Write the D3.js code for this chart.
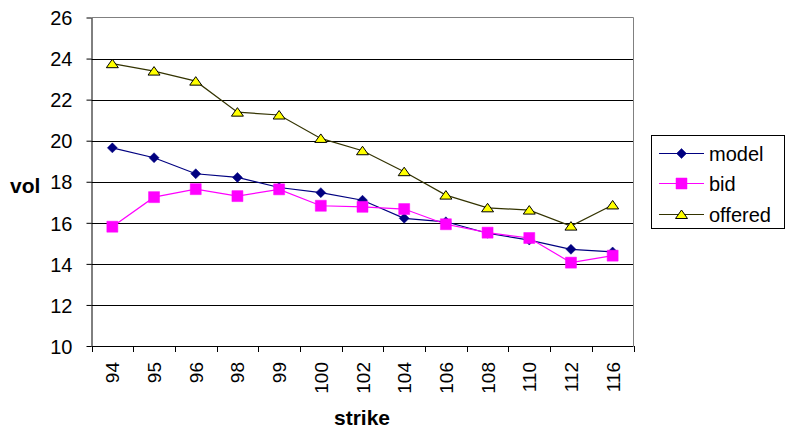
<!DOCTYPE html>
<html>
<head>
<meta charset="utf-8">
<script src="https://cdn.jsdelivr.net/npm/d3@7"></script>
<style>
  html, body { margin: 0; padding: 0; background: #fff; }
  svg { display: block; font-family: "Liberation Sans", Arial, sans-serif; }
</style>
</head>
<body>
<svg id="chart" width="787" height="432"></svg>
<script>
// Strike levels along the x axis
const strikes = ["94", "95", "96", "98", "99", "100", "102", "104", "106", "108", "110", "112", "116"];

// Volatility quotes per strike
const model   = [19.65, 19.17, 18.39, 18.21, 17.72, 17.47, 17.1, 16.22, 16.05, 15.49, 15.16, 14.71, 14.58];
const bid     = [15.81, 17.25, 17.64, 17.30, 17.63, 16.83, 16.78, 16.67, 15.93, 15.52, 15.26, 14.06, 14.40];
const offered = [23.75, 23.39, 22.9, 21.39, 21.25, 20.11, 19.51, 18.49, 17.35, 16.73, 16.62, 15.84, 16.87];

const yTicks = [10, 12, 14, 16, 18, 20, 22, 24, 26];

const series = [
  { name: "model",   values: model,   stroke: "#000080", marker: "diamond" },
  { name: "bid",     values: bid,     stroke: "#FF00FF", marker: "square" },
  { name: "offered", values: offered, stroke: "#333300", marker: "triangle" }
];

const svg = d3.select("#chart");
const plot = { left: 91.5, right: 633.5, top: 17.5, bottom: 346 };

const x = d3.scaleBand().domain(strikes).range([plot.left, plot.right]).padding(0);
const y = d3.scaleLinear().domain([10, 26]).range([plot.bottom, plot.top]);
const cx = s => x(s) + x.bandwidth() / 2;

// Horizontal gridlines
svg.append("g")
  .selectAll("line")
  .data(yTicks.filter(t => t > 10 && t < 26))
  .join("line")
  .attr("x1", plot.left).attr("x2", plot.right)
  .attr("y1", d => Math.round(y(d)) + 0.5).attr("y2", d => Math.round(y(d)) + 0.5)
  .attr("stroke", "#000").attr("stroke-width", 1);

// Plot frame: top and right edges in grey
svg.append("path")
  .attr("d", `M${plot.left},${plot.top}H${plot.right}V${plot.bottom}`)
  .attr("fill", "none").attr("stroke", "#808080").attr("stroke-width", 1);

// Y axis
const yAxis = svg.append("g")
  .attr("transform", `translate(${plot.left},0)`)
  .call(d3.axisLeft(y).tickValues(yTicks).tickSize(5).tickPadding(14).tickSizeOuter(0));
yAxis.select(".domain").attr("stroke", "#000");
yAxis.selectAll(".tick line").attr("stroke", "#000");
yAxis.selectAll(".tick text")
  .attr("fill", "#000").attr("font-size", 20).attr("dy", "0.36em")
  .attr("font-family", "Liberation Sans, Arial, sans-serif");

// X axis with tick marks at band boundaries
const xAxis = svg.append("g").attr("transform", `translate(0,${plot.bottom})`);
xAxis.append("line")
  .attr("x1", plot.left).attr("x2", plot.right)
  .attr("y1", 0.5).attr("y2", 0.5).attr("stroke", "#000");
const bounds = strikes.map(s => x(s)).concat([plot.right]);
xAxis.selectAll("line.tk")
  .data(bounds)
  .join("line").attr("class", "tk")
  .attr("x1", d => Math.round(d) + 0.5).attr("x2", d => Math.round(d) + 0.5)
  .attr("y1", 0).attr("y2", 6).attr("stroke", "#000");
xAxis.selectAll("text")
  .data(strikes)
  .join("text")
  .attr("transform", d => `translate(${cx(d) + 7},${16}) rotate(-90)`)
  .attr("text-anchor", "end")
  .attr("font-size", 19)
  .attr("fill", "#000")
  .text(d => d);

// Axis titles
svg.append("text")
  .attr("x", 10).attr("y", 193)
  .attr("font-size", 21).attr("font-weight", "bold").attr("fill", "#000")
  .text("vol");
svg.append("text")
  .attr("x", 362).attr("y", 425)
  .attr("text-anchor", "middle")
  .attr("font-size", 21).attr("font-weight", "bold").attr("fill", "#000")
  .text("strike");

// Marker shapes
function markerPath(type) {
  if (type === "diamond") return "M0,-5L5,0L0,5L-5,0Z";
  if (type === "square") return "M-5.5,-5.5H5.5V5.5H-5.5Z";
  return "M0,-4.5L6,4H-6Z";
}
function drawMarker(g, type, color) {
  if (type === "triangle") {
    g.append("path").attr("d", markerPath(type)).attr("fill", "#FFFF00").attr("stroke", "#000").attr("stroke-width", 1);
  } else {
    g.append("path").attr("d", markerPath(type)).attr("fill", color).attr("stroke", color).attr("stroke-width", 0.5);
  }
}

const line = d3.line().x((d, i) => cx(strikes[i])).y(d => y(d));

series.forEach(s => {
  const g = svg.append("g");
  g.append("path")
    .attr("d", line(s.values))
    .attr("fill", "none").attr("stroke", s.stroke).attr("stroke-width", 1.2);
  s.values.forEach((v, i) => {
    const m = g.append("g").attr("transform", `translate(${cx(strikes[i])},${y(v)})`);
    drawMarker(m, s.marker, s.stroke);
  });
});

// Legend
const legend = svg.append("g");
legend.append("rect")
  .attr("x", 651.5).attr("y", 135.5).attr("width", 133).attr("height", 93)
  .attr("fill", "#fff").attr("stroke", "#000").attr("stroke-width", 1);
const legendY = [153.5, 183.5, 214.5];
series.forEach((s, i) => {
  const row = legend.append("g").attr("transform", `translate(0,${legendY[i]})`);
  row.append("line").attr("x1", 659).attr("x2", 704).attr("y1", 0).attr("y2", 0)
    .attr("stroke", s.stroke).attr("stroke-width", 1.2);
  const m = row.append("g").attr("transform", "translate(681.5,0)");
  drawMarker(m, s.marker, s.stroke);
  row.append("text").attr("x", 709).attr("y", 7)
    .attr("font-size", 20).attr("fill", "#000").text(s.name);
});
</script>
</body>
</html>
